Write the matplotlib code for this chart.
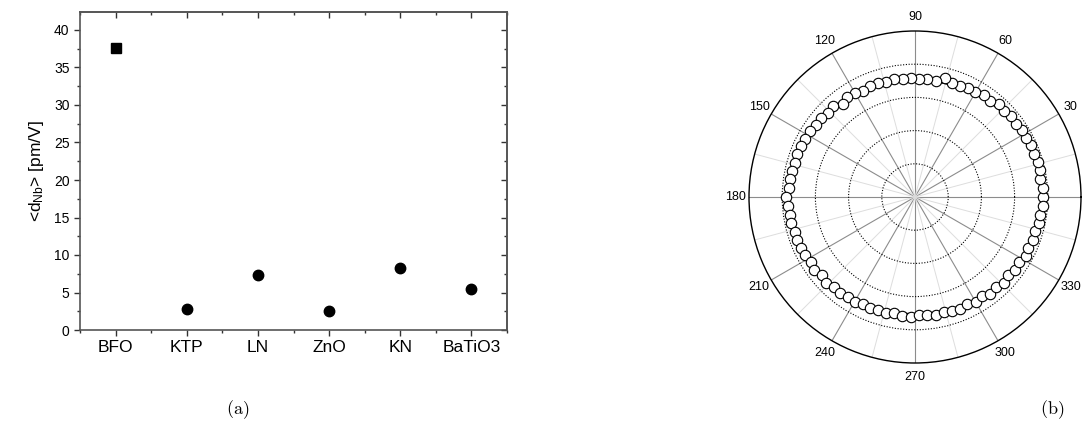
import numpy as np
import matplotlib.pyplot as plt
from matplotlib.ticker import MultipleLocator, FixedLocator

plt.rcParams['font.family'] = ['Liberation Sans', 'DejaVu Sans']
plt.rcParams['mathtext.fontset'] = 'custom'
plt.rcParams['mathtext.rm'] = 'Liberation Sans'
plt.rcParams['mathtext.it'] = 'Liberation Sans'

# (a) average effective coefficient per material
materials = ['BFO', 'KTP', 'LN', 'ZnO', 'KN', 'BaTiO3']
d_nb = [37.6, 2.8, 7.4, 2.5, 8.3, 5.5]

# (b) polar measurement, angle in degrees and normalised intensity
angles_deg = list(range(0, 360, 4))
r_meas = [0.770, 0.775, 0.760, 0.768, 0.770, 0.762, 0.768, 0.755, 0.760, 0.752,
          0.758, 0.748, 0.752, 0.735, 0.742, 0.728, 0.730, 0.718, 0.722, 0.740,
          0.712, 0.715, 0.712, 0.718, 0.712, 0.720, 0.715, 0.722, 0.718, 0.710,
          0.722, 0.728, 0.708, 0.735, 0.732, 0.742, 0.738, 0.745, 0.748, 0.752,
          0.755, 0.752, 0.760, 0.758, 0.762, 0.780, 0.768, 0.760, 0.765, 0.755,
          0.758, 0.752, 0.748, 0.740, 0.752, 0.735, 0.745, 0.730, 0.735, 0.725,
          0.728, 0.718, 0.722, 0.715, 0.720, 0.712, 0.722, 0.724, 0.712, 0.715,
          0.720, 0.712, 0.722, 0.728, 0.718, 0.730, 0.722, 0.738, 0.728, 0.745,
          0.735, 0.748, 0.742, 0.755, 0.748, 0.758, 0.752, 0.765, 0.760, 0.772]
theta_labels = ['0', '30', '60', '90', '120', '150', '180', '210', '240', '270', '300', '330']
# fitted ellipse: radius along 0 deg and along 90 deg
fit_r0 = 0.765
fit_r90 = 0.705

fig = plt.figure(figsize=(10.92, 4.37), dpi=100)

# ---- panel (a)
ax = fig.add_axes([80/1092, 1-330/437, 427/1092, 318/437])
x = np.arange(1, len(materials)+1)
ax.plot(x[:1], d_nb[:1], 's', color='black', ms=6.5)
ax.plot(x[1:], d_nb[1:], 'o', color='black', ms=7.5)
ax.set_xlim(0.5, 6.5)
ax.set_ylim(0, 42.4)
ax.set_xticks(x)
ax.set_xticklabels(materials, fontsize=12.5)
ax.xaxis.set_minor_locator(FixedLocator(np.arange(0.5, 7, 1.0)))
ax.yaxis.set_major_locator(MultipleLocator(5))
ax.yaxis.set_minor_locator(MultipleLocator(2.5))
ax.tick_params(axis='y', labelsize=10)
ax.tick_params(which='major', direction='out', length=4, width=1, color='#333333')
ax.tick_params(which='minor', direction='out', length=2.5, width=1, color='#333333')
ax.set_ylabel(r'<d$_{\rm Nb}$> [pm/V]', fontsize=12.5, labelpad=6)
for s in ax.spines.values():
    s.set_color('#555555')
    s.set_linewidth(1.2)
top = ax.secondary_xaxis('top')
top.set_xticks(x)
top.xaxis.set_minor_locator(FixedLocator(np.arange(0.5, 7, 1.0)))
top.tick_params(which='both', direction='in', labeltop=False, color='#333333', width=1)
top.tick_params(which='major', length=4)
top.tick_params(which='minor', length=2.5)
right = ax.secondary_yaxis('right')
right.yaxis.set_major_locator(MultipleLocator(5))
right.yaxis.set_minor_locator(MultipleLocator(2.5))
right.tick_params(which='both', direction='in', labelright=False, color='#333333', width=1)
right.tick_params(which='major', length=4)
right.tick_params(which='minor', length=2.5)
for sa in (top, right):
    for s in sa.spines.values():
        s.set_color('#555555')
        s.set_linewidth(1.2)

# ---- panel (b)
pax = fig.add_axes([749/1092, 1-363/437, 332/1092, 332/437], projection='polar')
th = np.deg2rad(angles_deg)
th_fit = np.linspace(0, 2*np.pi, 721)
r_fit = 1.0/np.sqrt(np.cos(th_fit)**2/fit_r0**2 + np.sin(th_fit)**2/fit_r90**2)
pax.plot(th_fit, r_fit, '-', color='black', lw=1.4, zorder=3)
pax.plot(th, r_meas, 'o', mfc='white', mec='black', mew=0.8, ms=7.5, zorder=4)
pax.set_ylim(0, 1.0)
pax.set_rgrids([0.2, 0.4, 0.6, 0.8], labels=[])
pax.set_thetagrids(range(0, 360, 30), labels=theta_labels, fontsize=9)
pax.xaxis.set_minor_locator(FixedLocator(np.deg2rad(np.arange(15, 360, 30))))
pax.grid(True, axis='x', which='major', color='#8c8c8c', lw=0.8, ls='-')
pax.grid(True, axis='x', which='minor', color='#dddddd', lw=0.7, ls='-')
pax.grid(True, axis='y', which='major', color='black', lw=0.8, ls=(0, (1, 1.5)))
pax.tick_params(axis='x', which='both', pad=3, length=0)
pax.spines['polar'].set_color('black')
pax.spines['polar'].set_linewidth(1.0)

# captions
fig.text(238/1092, 1-410/437, r'$\mathrm{(a)}$', ha='center', va='center', fontsize=13,
         math_fontfamily='cm')
fig.text(1052/1092, 1-410/437, r'$\mathrm{(b)}$', ha='center', va='center', fontsize=13,
         math_fontfamily='cm')

fig.savefig('out.png', dpi=100)
